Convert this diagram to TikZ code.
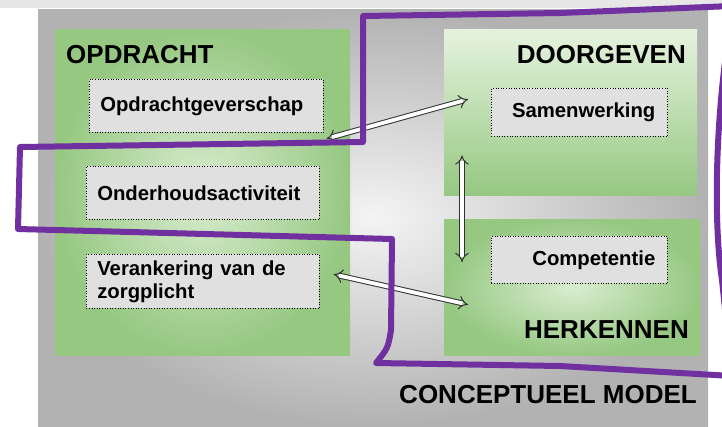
\documentclass[tikz,border=0pt]{standalone}
\usepackage{fontspec}
\setmainfont{Liberation Sans}
\usetikzlibrary{arrows.meta,positioning,calc}
\definecolor{panelgray}{RGB}{178,178,178}
\definecolor{panellight}{RGB}{244,244,244}
\definecolor{stripgray}{RGB}{231,231,231}
\definecolor{greenedge}{RGB}{150,200,130}
\definecolor{greenlight}{RGB}{218,237,208}
\definecolor{boxgray}{RGB}{224,224,224}
\definecolor{purpleline}{RGB}{112,48,160}
\definecolor{arrowline}{RGB}{50,50,50}

\begin{document}
\begin{tikzpicture}[x=1pt,y=-1pt,
  greenbox/.style={inner sep=0pt,anchor=north west,inner color=greenlight,outer color=greenedge},
  item/.style={draw=black,dotted,line width=0.6pt,fill=boxgray,anchor=north west,inner xsep=11pt,
    font=\fontsize{20.3}{23}\selectfont\bfseries},
  title/.style={inner sep=0pt,font=\fontsize{26}{30}\selectfont\bfseries},
  dblarrow/.style={double=white,draw=arrowline,double distance=3.8pt,line width=1pt,{Implies}-{Implies}},
  scopeline/.style={draw=purpleline,line width=6pt,line join=round,line cap=round}]
\useasboundingbox (0,0) rectangle (722,426);
% background
\fill[white] (0,0) rectangle (722,426);
\fill[stripgray] (0,0) rectangle (722,8);
\shade[inner color=panellight,outer color=panelgray] (38,9) rectangle (708,426);

% groups
\node[greenbox,minimum width=295pt,minimum height=326pt] (opdracht) at (55,29) {};
\node[greenbox,minimum width=253pt,minimum height=166pt,
  top color=greenlight!70!white,bottom color=greenedge] (doorgeven) at (444,29) {};
\node[greenbox,minimum width=256pt,minimum height=136pt] (herkennen) at (444,219) {};

\node[title,anchor=base west] at (66,63) {OPDRACHT};
\node[title,anchor=base east] at (686,63) {DOORGEVEN};
\node[title,anchor=base east] at (689,338) {HERKENNEN};
\node[title,anchor=base east] at (697,403) {CONCEPTUEEL MODEL};

% items
\node[item,text width=212pt,align=left,minimum height=53pt] (opg) at (89,79) {Opdrachtgeverschap};
\node[item,text width=211pt,align=left,minimum height=53pt] (ond) at (86,166) {Onderhoudsactiviteit};
\node[item,text width=211pt,align=left,minimum height=54pt] (ver) at (86,254) {Verankering van de\\zorgplicht};
\node[item,text width=152pt,align=right,inner xsep=12pt,minimum height=48pt] (sam) at (491,88) {Samenwerking};
\node[item,text width=152pt,align=right,inner xsep=12pt,minimum height=47pt] (comp) at (491,236) {Competentie};

% connectors
\draw[dblarrow] ([shift={(3,6)}]opg.south east) -- ([shift={(-23,-13)}]sam.west);
\draw[dblarrow] ([shift={(18,-40)}]doorgeven.south west) -- ([shift={(18,43)}]herkennen.north west);
\draw[dblarrow] ([shift={(14,-7)}]ver.east) -- ([shift={(-23,21)}]comp.south west);

% purple boundary
\draw[scopeline] (20,147) -- (363,142) -- (363,16) -- (560,13) -- (732,6) -- (728,40)
  .. controls (716,120) and (713,220) .. (722,280) -- (732,376) -- (560,366) -- (376,363)
  .. controls (388,348) .. (391,330) -- (392,239) -- (18,229) -- cycle;
\end{tikzpicture}
\end{document}
